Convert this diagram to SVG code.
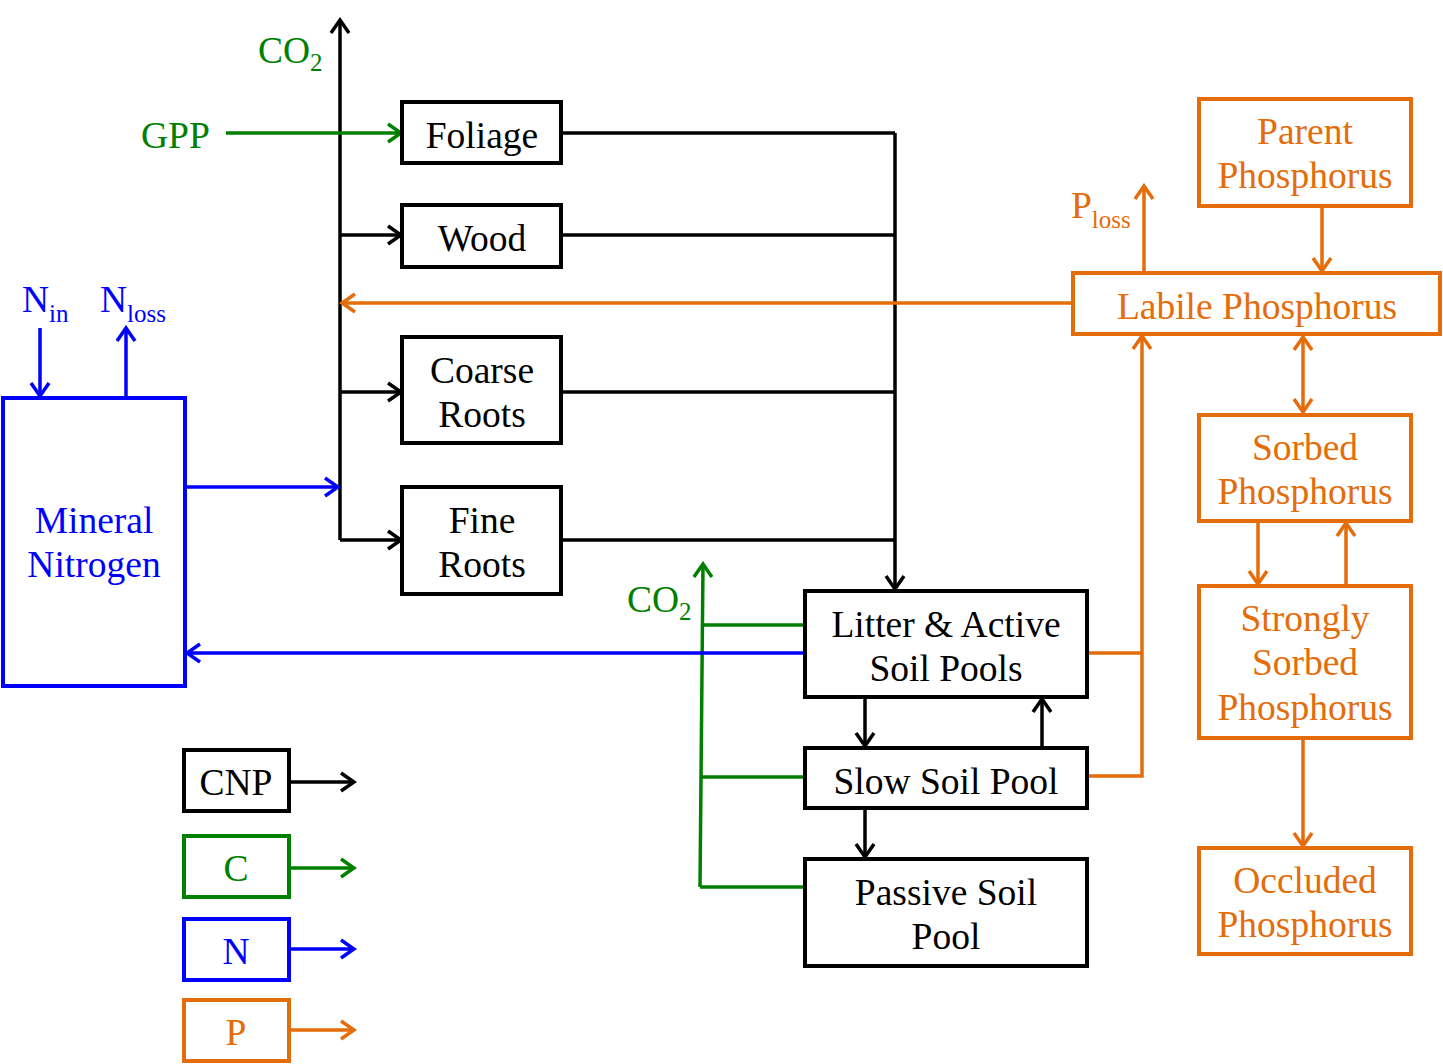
<svg xmlns="http://www.w3.org/2000/svg" width="1443" height="1064" viewBox="0 0 1443 1064">
<style>
text{font-family:"Liberation Serif","Times New Roman",serif;font-size:37.5px;text-anchor:middle}
.box{fill:#fff;stroke-width:4}
.k{stroke:#000}.g{stroke:#008000}.b{stroke:#0000ff}.o{stroke:#e46c0a}
.tk{fill:#000}.tg{fill:#008000}.tb{fill:#0000ff}.to{fill:#e46c0a}
.ln{fill:none;stroke-width:3.5}
.sub{font-size:25px}
.st{text-anchor:start}
</style>
<defs>
<marker id="ak" markerUnits="userSpaceOnUse" viewBox="0 0 18 22" markerWidth="18" markerHeight="22" refX="15" refY="11" orient="auto"><path d="M2,2 L15,11 L2,20" fill="none" stroke="#000" stroke-width="3.5"/></marker>
<marker id="ag" markerUnits="userSpaceOnUse" viewBox="0 0 18 22" markerWidth="18" markerHeight="22" refX="15" refY="11" orient="auto"><path d="M2,2 L15,11 L2,20" fill="none" stroke="#008000" stroke-width="3.5"/></marker>
<marker id="ab" markerUnits="userSpaceOnUse" viewBox="0 0 18 22" markerWidth="18" markerHeight="22" refX="15" refY="11" orient="auto"><path d="M2,2 L15,11 L2,20" fill="none" stroke="#0000ff" stroke-width="3.5"/></marker>
<marker id="ao" markerUnits="userSpaceOnUse" viewBox="0 0 18 22" markerWidth="18" markerHeight="22" refX="15" refY="11" orient="auto-start-reverse"><path d="M2,2 L15,11 L2,20" fill="none" stroke="#e46c0a" stroke-width="3.5"/></marker>
</defs>
<rect width="1443" height="1064" fill="#fff"/>

<g id="connectors">
  <path class="ln k" d="M340,540 L340,20" marker-end="url(#ak)"/>
  <path class="ln k" d="M340,235 L401,235" marker-end="url(#ak)"/>
  <path class="ln k" d="M340,392 L401,392" marker-end="url(#ak)"/>
  <path class="ln k" d="M340,540 L401,540" marker-end="url(#ak)"/>
  <path class="ln k" d="M561,133 L895,133 M561,235 L895,235 M561,392 L895,392 M561,540 L895,540"/>
  <path class="ln k" d="M895,133 L895,589" marker-end="url(#ak)"/>
  <path class="ln k" d="M865,697 L865,746" marker-end="url(#ak)"/>
  <path class="ln k" d="M1042,748 L1042,699" marker-end="url(#ak)"/>
  <path class="ln k" d="M865,808 L865,857" marker-end="url(#ak)"/>
  <path class="ln g" d="M226,133 L401,133" marker-end="url(#ag)"/>
  <path class="ln g" d="M700,887 L703,564" marker-end="url(#ag)"/>
  <path class="ln g" d="M702,625 L805,625 M701,777 L805,777 M700,887 L805,887"/>
  <path class="ln b" d="M185,487 L338,487" marker-end="url(#ab)"/>
  <path class="ln b" d="M805,653 L187,653" marker-end="url(#ab)"/>
  <path class="ln b" d="M40,328 L40,396" marker-end="url(#ab)"/>
  <path class="ln b" d="M126,398 L126,328" marker-end="url(#ab)"/>
  <path class="ln o" d="M1073,303 L342,303" marker-end="url(#ao)"/>
  <path class="ln o" d="M1144,273 L1144,186" marker-end="url(#ao)"/>
  <path class="ln o" d="M1322,206 L1322,271" marker-end="url(#ao)"/>
  <path class="ln o" d="M1303,337 L1303,412" marker-start="url(#ao)" marker-end="url(#ao)"/>
  <path class="ln o" d="M1258,521 L1258,584" marker-end="url(#ao)"/>
  <path class="ln o" d="M1346,586 L1346,523" marker-end="url(#ao)"/>
  <path class="ln o" d="M1303,740 L1303,846" marker-end="url(#ao)"/>
  <path class="ln o" d="M1087,653 L1142,653 M1087,776 L1142,776 L1142,653"/>
  <path class="ln o" d="M1142,653 L1142,336" marker-end="url(#ao)"/>
  <path class="ln k" d="M289,782 L354,782" marker-end="url(#ak)"/>
  <path class="ln g" d="M289,868 L354,868" marker-end="url(#ag)"/>
  <path class="ln b" d="M289,949 L354,949" marker-end="url(#ab)"/>
  <path class="ln o" d="M289,1030 L354,1030" marker-end="url(#ao)"/>
</g>

<g id="labels">
  <text class="tg st" x="258" y="63">CO<tspan class="sub" dy="8">2</tspan></text>
  <text class="tg st" x="141" y="148">GPP</text>
  <text class="tg st" x="627" y="612">CO<tspan class="sub" dy="8">2</tspan></text>
  <text class="tb st" x="22" y="312">N<tspan class="sub" dy="10">in</tspan></text>
  <text class="tb st" x="100" y="312">N<tspan class="sub" dy="10">loss</tspan></text>
  <text class="to st" x="1071" y="218">P<tspan class="sub" dy="10">loss</tspan></text>
</g>

<g id="foliage"><rect class="box k" x="402" y="102" width="159" height="61"/><text class="tk" x="482" y="148">Foliage</text></g>
<g id="wood"><rect class="box k" x="402" y="205" width="159" height="62"/><text class="tk" x="482" y="251">Wood</text></g>
<g id="coarse-roots"><rect class="box k" x="402" y="337" width="159" height="106"/><text class="tk" x="482" y="383">Coarse</text><text class="tk" x="482" y="427">Roots</text></g>
<g id="fine-roots"><rect class="box k" x="402" y="487" width="159" height="107"/><text class="tk" x="482" y="533">Fine</text><text class="tk" x="482" y="577">Roots</text></g>
<g id="litter"><rect class="box k" x="805" y="591" width="282" height="106"/><text class="tk" x="946" y="637">Litter &amp; Active</text><text class="tk" x="946" y="681">Soil Pools</text></g>
<g id="slow"><rect class="box k" x="805" y="748" width="282" height="60"/><text class="tk" x="946" y="794">Slow Soil Pool</text></g>
<g id="passive"><rect class="box k" x="805" y="859" width="282" height="107"/><text class="tk" x="946" y="905">Passive Soil</text><text class="tk" x="946" y="949">Pool</text></g>
<g id="mineral-nitrogen"><rect class="box b" x="3" y="398" width="182" height="288"/><text class="tb" x="94" y="533">Mineral</text><text class="tb" x="94" y="577">Nitrogen</text></g>
<g id="parent-p"><rect class="box o" x="1199" y="99" width="212" height="107"/><text class="to" x="1305" y="144">Parent</text><text class="to" x="1305" y="188">Phosphorus</text></g>
<g id="labile-p"><rect class="box o" x="1073" y="273" width="367" height="61"/><text class="to" x="1257" y="319">Labile Phosphorus</text></g>
<g id="sorbed-p"><rect class="box o" x="1199" y="415" width="212" height="106"/><text class="to" x="1305" y="460">Sorbed</text><text class="to" x="1305" y="504">Phosphorus</text></g>
<g id="strongly-sorbed-p"><rect class="box o" x="1199" y="586" width="212" height="152"/><text class="to" x="1305" y="631">Strongly</text><text class="to" x="1305" y="675">Sorbed</text><text class="to" x="1305" y="720">Phosphorus</text></g>
<g id="occluded-p"><rect class="box o" x="1199" y="848" width="212" height="106"/><text class="to" x="1305" y="893">Occluded</text><text class="to" x="1305" y="937">Phosphorus</text></g>

<g id="legend-cnp"><rect class="box k" x="184" y="750" width="105" height="61"/><text class="tk" x="236" y="795">CNP</text></g>
<g id="legend-c"><rect class="box g" x="184" y="836" width="105" height="61"/><text class="tg" x="236" y="881">C</text></g>
<g id="legend-n"><rect class="box b" x="184" y="919" width="105" height="61"/><text class="tb" x="236" y="964">N</text></g>
<g id="legend-p"><rect class="box o" x="184" y="1000" width="105" height="61"/><text class="to" x="236" y="1045">P</text></g>
</svg>
